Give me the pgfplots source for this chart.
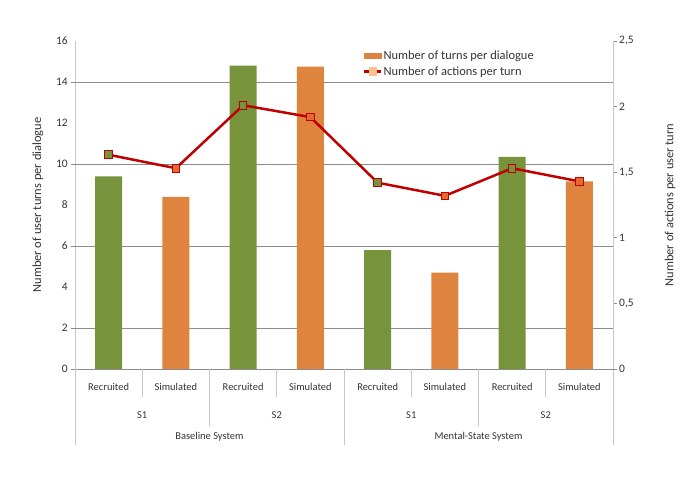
\documentclass[border=0pt]{standalone}
\usepackage{fontspec}
\setmainfont{Carlito}
\usepackage{pgfplots}
\pgfplotsset{compat=1.18}
\definecolor{cgreen}{HTML}{77933C}
\definecolor{corange}{HTML}{DE843E}
\definecolor{cred}{HTML}{C00000}
\definecolor{cpeach}{HTML}{FAC090}
\definecolor{gridc}{HTML}{8C8C8C}
\definecolor{axl}{HTML}{C8C8C8}
\definecolor{txt}{HTML}{333333}
\begin{document}
\begin{tikzpicture}[x=1bp,y=1bp]
\path[use as bounding box] (0,0) rectangle (685,484);
\begin{axis}[
  at={(75bp,115bp)}, anchor=south west,
  scale only axis, width=538bp, height=328bp,
  xmin=-0.5, xmax=7.5, ymin=0, ymax=16,
  clip=false,
  axis x line*=bottom, axis y line*=left,
  x axis line style={draw=gridc,-,line width=0.8bp},
  y axis line style={draw=axl,-,line width=0.8bp},
  /pgf/number format/assume math mode=true,
  ytick={0,2,...,16},
  major tick length=0pt,
  yticklabel style={font=\fontsize{11.5}{13}\selectfont, text=txt, anchor=east, inner sep=0pt, xshift=-7bp},
  extra y ticks={0,2,6,10,14},
  extra y tick labels={},
  extra y tick style={grid=major, major grid style={draw=gridc, line width=0.8bp}, tick style={draw=gridc, line width=0.8bp}, major tick length=4bp, tick align=outside},
  xtick={0,...,7},
  xticklabels={Recruited,Simulated,Recruited,Simulated,Recruited,Simulated,Recruited,Simulated},
  x tick style={draw=none},
  xticklabel style={font=\fontsize{10.5}{12}\selectfont, text=txt, anchor=center, inner sep=0pt, yshift=-18bp},
  ylabel={Number of user turns per dialogue},
  ylabel style={font=\fontsize{12.5}{14}\selectfont, text=txt, at={(axis description cs:-0.0688,0.5)}, anchor=center},
]
\addplot[ybar, bar width=27bp, bar shift=0pt, fill=cgreen, draw=none] coordinates {(0,9.4) (2,14.8) (4,5.8) (6,10.35)};
\addplot[ybar, bar width=27bp, bar shift=0pt, fill=corange, draw=none] coordinates {(1,8.4) (3,14.75) (5,4.7) (7,9.15)};
% category separators
\draw[axl, line width=0.8bp] (axis cs:0.5,0) -- ++(0bp,-28bp);
\draw[axl, line width=0.8bp] (axis cs:2.5,0) -- ++(0bp,-28bp);
\draw[axl, line width=0.8bp] (axis cs:4.5,0) -- ++(0bp,-28bp);
\draw[axl, line width=0.8bp] (axis cs:6.5,0) -- ++(0bp,-28bp);
\draw[axl, line width=0.8bp] (axis cs:1.5,0) -- ++(0bp,-57bp);
\draw[axl, line width=0.8bp] (axis cs:5.5,0) -- ++(0bp,-57bp);
\draw[axl, line width=0.8bp] (axis cs:-0.5,0) -- ++(0bp,-76bp);
\draw[axl, line width=0.8bp] (axis cs:3.5,0) -- ++(0bp,-76bp);
\draw[axl, line width=0.8bp] (axis cs:7.5,0) -- ++(0bp,-76bp);
\node[font=\fontsize{10.5}{12}\selectfont, text=txt] at ([yshift=-46bp]axis cs:0.5,0) {S1};
\node[font=\fontsize{10.5}{12}\selectfont, text=txt] at ([yshift=-46bp]axis cs:2.5,0) {S2};
\node[font=\fontsize{10.5}{12}\selectfont, text=txt] at ([yshift=-46bp]axis cs:4.5,0) {S1};
\node[font=\fontsize{10.5}{12}\selectfont, text=txt] at ([yshift=-46bp]axis cs:6.5,0) {S2};
\node[font=\fontsize{10.5}{12}\selectfont, text=txt] at ([yshift=-68bp]axis cs:1.5,0) {Baseline System};
\node[font=\fontsize{10.5}{12}\selectfont, text=txt] at ([yshift=-68bp]axis cs:5.5,0) {Mental-State System};
\end{axis}
\begin{axis}[
  at={(75bp,115bp)}, anchor=south west,
  scale only axis, width=538bp, height=328bp,
  xmin=-0.5, xmax=7.5, ymin=0, ymax=2.5,
  axis x line=none, axis y line*=right,
  y axis line style={draw=axl,-,line width=0.8bp},
  /pgf/number format/assume math mode=true,
  /pgf/number format/use comma,
  ytick={0,0.5,...,2.5},
  ytick style={draw=gridc, line width=0.8bp},
  tick align=outside, major tick length=4bp,
  yticklabel style={font=\fontsize{11.5}{13}\selectfont, text=txt, anchor=west, inner sep=0pt, xshift=2bp},
  ylabel={Number of actions per user turn},
  ylabel style={font=\fontsize{12.5}{14}\selectfont, text=txt, at={(axis description cs:1.106,0.5)}, anchor=center},
  legend style={at={(axis description cs:0.535,0.975)}, anchor=north west, draw=none, fill=none,
    font=\fontsize{12.5}{14}\selectfont, text=txt, row sep=4bp, inner sep=0pt,
    nodes={inner sep=1bp}},
  legend cell align=left,
]
\addlegendimage{legend image code/.code={\fill[corange] (0bp,-2.5bp) rectangle (17bp,2.5bp);}}
\addlegendimage{cred, line width=2.5bp, mark=square*, mark size=3.8bp, mark options={fill=cpeach, draw=cpeach, line width=0.8bp}}
\addplot[cred, line width=2.5bp, no marks, forget plot] coordinates {(0,1.633) (1,1.53) (2,2.01) (3,1.92) (4,1.42) (5,1.32) (6,1.53) (7,1.43)};
\addplot[only marks, mark=square*, mark size=3.8bp, mark options={fill=cgreen, draw=cred, line width=1bp}, forget plot] coordinates {(0,1.633) (2,2.01) (4,1.42) (6,1.53)};
\addplot[only marks, mark=square*, mark size=3.8bp, mark options={fill=corange!80!red, draw=cred, line width=1bp}, forget plot] coordinates {(1,1.53) (3,1.92) (5,1.32) (7,1.43)};
\legend{Number of turns per dialogue,Number of actions per turn}
\end{axis}
\end{tikzpicture}
\end{document}
